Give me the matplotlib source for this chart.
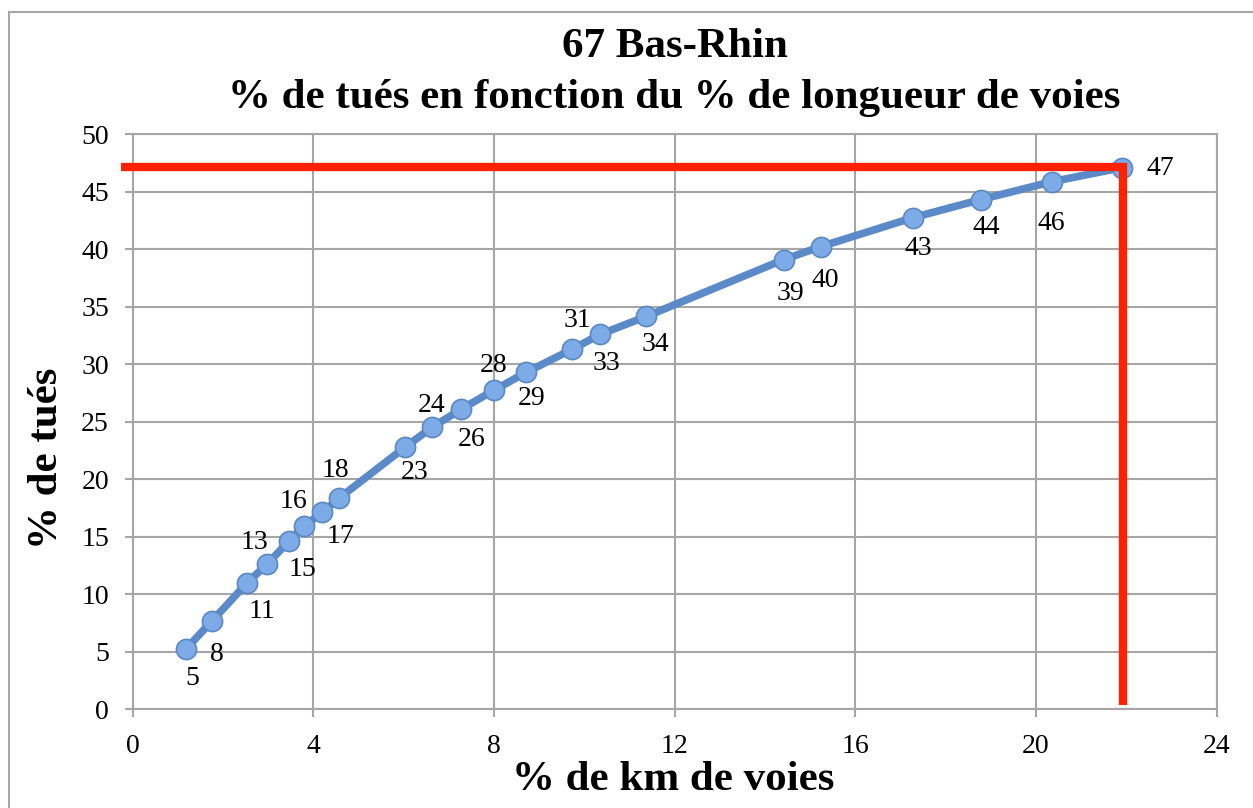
import matplotlib.pyplot as plt
from matplotlib.lines import Line2D

# data (% of road length vs % of deaths)
pct_km = [1.18, 1.76, 2.53, 2.98, 3.46, 3.80, 4.20, 4.57, 6.03, 6.63, 7.27,
          8.00, 8.71, 9.73, 10.35, 11.37, 14.42, 15.24, 17.28, 18.78, 20.36, 21.91]
pct_tues = [5.23, 7.67, 10.96, 12.61, 14.61, 15.91, 17.13, 18.34, 22.77, 24.5, 26.07,
            27.72, 29.28, 31.28, 32.58, 34.14, 39.09, 40.22, 42.73, 44.30, 45.86, 47.08]
point_labels = ["5", "8", "11", "13", "15", "16", "17", "18", "23", "24", "26",
                "28", "29", "31", "33", "34", "39", "40", "43", "44", "46", "47"]
# where each label sits relative to its point (pixels, x right / y up)
label_offsets = [(6, -29), (5, -33), (15, -28), (-13, 22), (14, -28), (-11, 25),
                 (18, -24), (-4, 28), (10, -25), (0, 22), (11, -30), (0, 25),
                 (6, -26), (5, 29), (6, -29), (9, -28), (7, -34), (4, -34),
                 (5, -31), (5, -28), (-1, -42), (38, -1)]

# red marker lines
red_x = 21.92
red_y = 47.1

xticks = list(range(0, 25, 4))
yticks = list(range(0, 51, 5))

serif = "Liberation Serif"
grey = "#a6a6a6"

W, H = 1253, 808
fig = plt.figure(figsize=(W / 100, H / 100), dpi=100)
ax = fig.add_axes([132.5 / W, 1 - 709.3 / H, (1216.6 - 132.5) / W, (709.3 - 134.0) / H])

ax.plot(pct_km, pct_tues, color="#5a8ac8", lw=5.5, zorder=3,
        marker="o", ms=14.5, mfc="#7dabe8", mec="#5b88c2", mew=1.2)

for x, y, txt, off in zip(pct_km, pct_tues, point_labels, label_offsets):
    ax.annotate(txt, (x, y), xytext=off, textcoords="offset pixels",
                ha="center", va="center", fontsize=20, family=serif, zorder=5)

# red cross-hair lines
ax.plot([-0.25, red_x, red_x], [red_y, red_y, 0.37], color="#ff2200", lw=6,
        solid_joinstyle="miter", solid_capstyle="butt", clip_on=False, zorder=4)

ax.set_xlim(0, 24)
ax.set_ylim(0, 50)
ax.set_xticks(xticks)
ax.set_yticks(yticks)
ax.grid(True, color=grey, lw=1.5)
ax.set_axisbelow(True)
for s in ax.spines.values():
    s.set_color(grey)
    s.set_linewidth(1.5)
ax.tick_params(axis="both", color=grey, width=1.5, length=6, labelsize=20)
ax.tick_params(axis="x", pad=12)
ax.tick_params(axis="y", pad=11)
for lab in ax.get_xticklabels() + ax.get_yticklabels():
    lab.set_family(serif)

# titles and axis labels
cx = 674.5 / W
fig.text(cx, 1 - 47 / H, "67 Bas-Rhin", ha="center", va="center",
         fontsize=31, fontweight="bold", family=serif)
fig.text(cx, 1 - 98 / H, "% de tués en fonction du % de longueur de voies",
         ha="center", va="center", fontsize=31, fontweight="bold", family=serif)
fig.text(673 / W, 1 - 780 / H, "% de km de voies", ha="center", va="center",
         fontsize=31, fontweight="bold", family=serif)
fig.text(47 / W, 1 - 458 / H, "% de tués", ha="center", va="center", rotation=90,
         fontsize=31, fontweight="bold", family=serif)

# outer frame (top and left edges visible)
fig.add_artist(Line2D([9 / W, 9 / W], [0, 1 - 12 / H], transform=fig.transFigure,
                      color=grey, lw=1.5))
fig.add_artist(Line2D([9 / W, 1], [1 - 12 / H, 1 - 12 / H], transform=fig.transFigure,
                      color=grey, lw=1.5))

fig.savefig("out.png", dpi=100)
